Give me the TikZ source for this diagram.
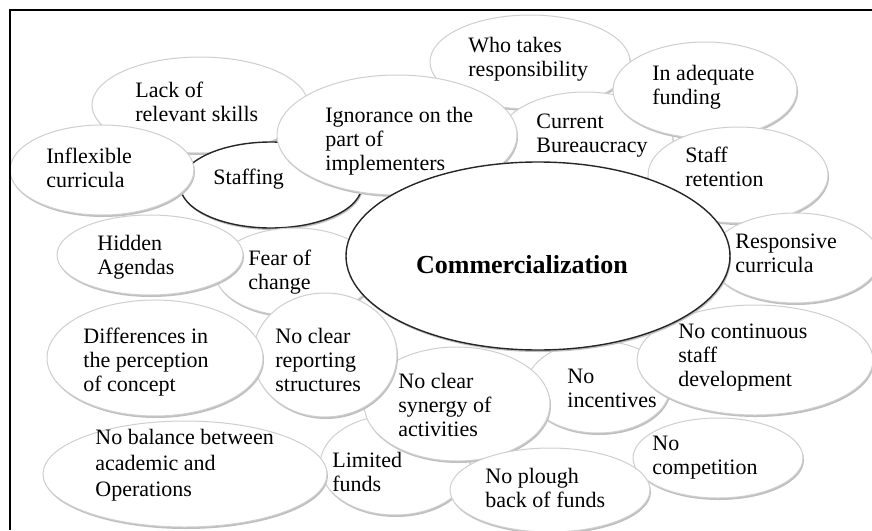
\documentclass[tikz,border=0pt]{standalone}
\usepackage{fontspec}
\setmainfont{Liberation Serif}
\usetikzlibrary{shapes.geometric,shadows}
\begin{document}
\begin{tikzpicture}[x=0.5pt,y=-0.5pt,
  bub/.style={ellipse, fill=white, draw=gray!38, line width=0.5pt, inner sep=0pt, outer sep=0pt,
    drop shadow={shadow xshift=0.5pt, shadow yshift=-1pt, fill=gray!50, opacity=1}},
  dark/.style={draw=black!85, line width=0.7pt},
  lbl/.style={anchor=base west, align=left, inner sep=0pt, font=\fontsize{11}{12}\selectfont},
]
\path[use as bounding box, clip] (0,0) rectangle (872,530);
\fill[white] (0,0) rectangle (872,530);
% bubbles, back to front
\node[bub,minimum width=100pt,minimum height=47pt] (eWho) at (530,62) {};
\node[bub,minimum width=88pt,minimum height=50pt] (eCur) at (585,142) {};
\node[bub,minimum width=92pt,minimum height=48pt] (eFund) at (705,90) {};
\node[bub,minimum width=108pt,minimum height=48pt] (eLack) at (200,105) {};
\node[bub,dark,minimum width=91pt,minimum height=43pt] (eStaff) at (271,185) {};
\node[bub,minimum width=120pt,minimum height=60pt] (eIgn) at (397,135) {};
\node[bub,minimum width=92pt,minimum height=45pt] (eInf) at (102,170) {};
\node[bub,minimum width=90pt,minimum height=48pt] (eRet) at (738,175) {};
\node[bub,minimum width=85pt,minimum height=45pt] (eResp) at (795,258) {};
\node[bub,minimum width=80pt,minimum height=44pt] (eFear) at (295,272) {};
\node[bub,minimum width=93pt,minimum height=40pt] (eHid) at (150,255) {};
\node[bub,minimum width=72pt,minimum height=46pt] (eInc) at (598,387) {};
\node[bub,minimum width=118pt,minimum height=55pt] (eCont) at (755,360) {};
\node[bub,minimum width=85pt,minimum height=40pt] (eComp) at (718,458) {};
\node[bub,minimum width=75pt,minimum height=50pt] (eLim) at (395,465) {};
\node[bub,minimum width=93pt,minimum height=57pt] (eSyn) at (457,404) {};
\node[bub,minimum width=72pt,minimum height=62pt] (eRep) at (325,355) {};
\node[bub,minimum width=108pt,minimum height=58pt] (eDiff) at (155,358) {};
\node[bub,minimum width=142pt,minimum height=53pt] (eBal) at (185,474) {};
\node[bub,minimum width=100pt,minimum height=42pt] (ePlough) at (550,490) {};
\node[bub,dark,minimum width=192pt,minimum height=94pt] (eCom) at (538,256) {};
% labels (anchored at the baseline of the last line)
\node[lbl] (tWho) at (468,76) {Who takes\\responsibility};
\node[lbl] (tFund) at (652,104) {In adequate\\funding};
\node[lbl] (tLack) at (135,121) {Lack of\\relevant skills};
\node[lbl] (tIgn) at (325,170) {Ignorance on the\\part of\\implementers};
\node[lbl] (tCur) at (536,152) {Current\\Bureaucracy};
\node[lbl] (tInf) at (46,187) {Inflexible\\curricula};
\node[lbl] (tStaff) at (213,184) {Staffing};
\node[lbl] (tRet) at (685,186) {Staff\\retention};
\node[lbl] (tHid) at (97,274) {Hidden\\Agendas};
\node[lbl] (tFear) at (248,289) {Fear of\\change};
\node[lbl] (tResp) at (735,272) {Responsive\\curricula};
\node[lbl] (tDiff) at (83,391) {Differences in\\the perception\\of concept};
\node[lbl] (tRep) at (275,391) {No clear\\reporting\\structures};
\node[lbl] (tSyn) at (398,436) {No clear\\synergy of\\activities};
\node[lbl] (tCont) at (678,386) {No continuous\\staff\\development};
\node[lbl] (tInc) at (567,407) {No\\incentives};
\node[lbl,font=\fontsize{11}{12.8}\selectfont] (tBal) at (95,496) {No balance between\\academic and\\Operations};
\node[lbl] (tLim) at (332,491) {Limited\\funds};
\node[lbl] (tPlough) at (485,507) {No plough\\back of funds};
\node[lbl] (tComp) at (652,474) {No\\competition};
\node[font=\bfseries\fontsize{13}{15}\selectfont] (tCom) at (522,265) {Commercialization};
% frame
\coordinate (fTR) at (872,10);
\coordinate (fTL) at (10,10);
\coordinate (fBL) at (10,530);
\draw[line width=1pt] (fTR) -- (fTL) -- (fBL);
\end{tikzpicture}
\end{document}
